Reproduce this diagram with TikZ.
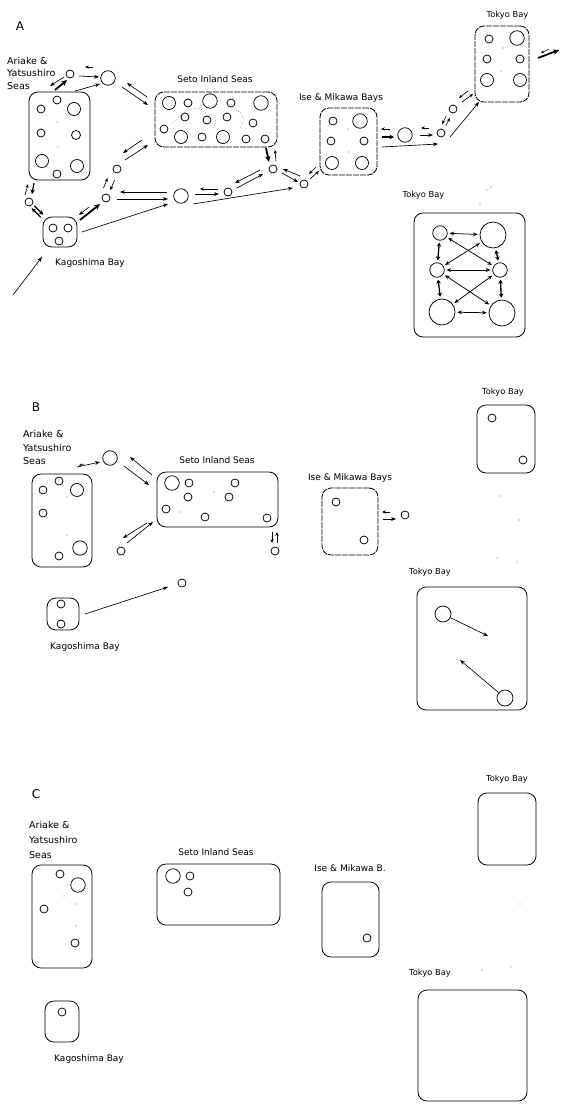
\documentclass[tikz,border=0pt]{standalone}
\usepackage{fontspec}
\setmainfont{DejaVu Sans}
\usetikzlibrary{arrows.meta,calc}
\begin{document}
\begin{tikzpicture}[x=1pt,y=-1pt,
  box/.style={draw=black, line width=0.8pt, rounded corners=9pt, inner sep=0pt},
  dbox/.style={box, dash pattern=on 6pt off 1pt},
  cir/.style={draw=black, circle, line width=0.75pt, inner sep=0pt},
  sc/.style={cir, minimum size=8pt},
  mc/.style={cir, minimum size=13pt},
  lc/.style={cir, minimum size=14.5pt},
  hc/.style={cir, minimum size=26pt},
  ar/.style={-{Stealth[length=5pt,width=3.8pt]}, line width=0.65pt},
  sar/.style={-{Stealth[length=3.8pt,width=3.2pt]}, line width=0.65pt},
  tar/.style={-{Stealth[length=6pt,width=5.5pt]}, line width=1.8pt},
  mar/.style={-{Stealth[length=4.5pt,width=4.5pt]}, line width=1.2pt},
  dar/.style={{Stealth[length=4.5pt,width=3.8pt]}-{Stealth[length=4.5pt,width=3.8pt]}, line width=0.75pt, shorten >=2pt, shorten <=2pt},
  tdar/.style={{Stealth[length=4pt,width=4.5pt]}-{Stealth[length=4pt,width=4.5pt]}, line width=1.3pt, shorten >=2pt, shorten <=2pt},
  lab/.style={font=\fontsize{9}{10}\selectfont, inner sep=0pt},
  tlab/.style={font=\fontsize{8.3}{10}\selectfont, inner sep=0pt},
  big/.style={font=\fontsize{12}{14}\selectfont, inner sep=0pt},
  side/.style={lab, align=left, anchor=north west},
  dot/.style={fill=black!55, circle, inner sep=0pt, minimum size=1.1pt}
]
\useasboundingbox (0,0) rectangle (566,1104);
\fill[white] (0,0) rectangle (566,1104);

%%%%%%%%%%%%%%%% PANEL A %%%%%%%%%%%%%%%%
\node[big] (LA) at (20,26) {A};
\node[side, font=\fontsize{9.5}{12.5}\selectfont] (ArLA) at (7,57) {Ariake \&\\Yatsushiro\\Seas};
\node[box, minimum width=61pt, minimum height=88pt] (ArA) at (59.5,136) {};
\node[sc] (a1) at (57,100) {};
\node[sc] (a2) at (41,109) {};
\node[mc] (a3) at (74,109) {};
\node[sc] (a4) at (41,133) {};
\node[sc, minimum size=9pt] (a5) at (76,135) {};
\node[mc] (a6) at (42,161) {};
\node[mc] (a7) at (77,166) {};
\node[sc] (a8) at (57,174) {};
\node[dot] (ad1) at (57,122) {};
\node[dot] (ad2) at (58,147) {};

\node[lab] (SeLA) at (215,79.5) {Seto Inland Seas};
\node[dbox, minimum width=122pt, minimum height=55pt] (SeA) at (216,119.5) {};
\node[mc] (s1) at (169,103) {};
\node[sc] (s2) at (188,103) {};
\node[lc] (s3) at (210,101) {};
\node[sc] (s4) at (231,103) {};
\node[lc] (s5) at (261,103) {};
\node[sc] (s6) at (185,117) {};
\node[sc] (s7) at (207,120) {};
\node[sc] (s8) at (227,117) {};
\node[sc] (s9) at (253,123) {};
\node[sc] (s10) at (164,129) {};
\node[mc] (s11) at (181,137) {};
\node[sc] (s12) at (202,137) {};
\node[mc] (s13) at (223,137) {};
\node[sc] (s14) at (246,139) {};
\node[sc] (s15) at (265,139) {};
\draw[black!60, dotted, line width=0.6pt] (s6) ++(-12,6) .. controls (190,104) and (202,105) .. (s7.north) .. controls (215,110) and (218,122) .. (213,129);
\draw[black!60, dotted, line width=0.6pt] (236,110) .. controls (243,112) and (246,120) .. (240,128);

\node[lab] (IseLA) at (341,98.5) {Ise \& Mikawa Bays};
\node[dbox, minimum width=57pt, minimum height=67pt] (IseA) at (348.5,141.5) {};
\node[sc] (i1) at (333,121) {};
\node[lc] (i2) at (360,121) {};
\node[sc] (i3) at (331,141) {};
\node[sc] (i4) at (364,141) {};
\node[mc] (i5) at (332,163) {};
\node[mc] (i6) at (362,163) {};
\node[dot] (id1) at (348,129) {};
\node[dot] (id2) at (349,152) {};

\node[tlab] (TkLA) at (507.5,15.5) {Tokyo Bay};
\node[dbox, minimum width=54pt, minimum height=76pt] (TkA) at (502,64) {};
\node[sc] (t1) at (489,39) {};
\node[lc] (t2) at (517,38) {};
\node[sc] (t3) at (487,59) {};
\node[sc] (t4) at (520,59) {};
\node[mc] (t5) at (487,80) {};
\node[mc] (t6) at (520,80) {};
\node[dot] (td1) at (503,48) {};
\node[dot] (td2) at (501,71) {};

\node[lab] (KgLA) at (90,263.5) {Kagoshima Bay};
\node[box, minimum width=34pt, minimum height=30pt] (KgA) at (60,232) {};
\node[sc] (k1) at (53,228) {};
\node[sc] (k2) at (68,228) {};
\node[sc] (k3) at (59,241) {};

\node[sc] (c0) at (29,202) {};
\node[sc] (c1) at (70,74) {};
\node[lc] (c2) at (108,78) {};
\node[sc] (c3) at (117,169) {};
\node[sc] (c4) at (106,198) {};
\node[lc] (c5) at (181,196) {};
\node[sc] (c6) at (228,192) {};
\node[sc] (c7) at (273,169) {};
\node[sc] (c8) at (304,184) {};
\node[lc] (c9) at (405,135) {};
\node[sc] (c10) at (441,133) {};
\node[sc] (c11) at (453,109) {};
\coordinate (srcA) at (13,295);
\coordinate (outA) at (559,50);

% connectors panel A
\draw[tar] ($(ArA)+(-4.5,-46)$) -- ($(c1)+(-3,6)$);
\draw[ar] ($(c1)+(-6,3)$) -- ($(ArA)+(-9.5,-50)$);
\draw[sar] ($(c2)+(-15,-11)$) -- ($(c1)+(15,-7)$);
\draw[ar] ($(c1)+(9,2)$) -- ($(c2)+(-9,-1)$);
\draw[ar] ($(ArA)+(15.5,-45)$) -- ($(c2)+(-8,6)$);
\draw[ar] ($(SeA)+(-69,-22.5)$) -- ($(c2)+(19,5)$);
\draw[ar] ($(c2)+(14,9)$) -- ($(SeA)+(-68,-14.5)$);
\draw[ar] ($(SeA)+(-74,20.5)$) -- ($(c3)+(6,-16)$);
\draw[ar] ($(c3)+(8,-9)$) -- ($(SeA)+(-68,25.5)$);
\draw[sar] ($(c3)+(-2.5,11)$) -- ($(c4)+(4.5,-8)$);
\draw[sar] ($(c4)+(-2.5,-10)$) -- ($(c3)+(-9.5,9)$);
\draw[tar] ($(KgA)+(20,-12)$) -- ($(c4)+(-6,6)$);
\draw[ar] ($(c4)+(-17,9)$) -- ($(KgA)+(19,-17)$);
\draw[ar] ($(c5)+(-14,-4)$) -- ($(c4)+(14,-6)$);
\draw[ar] ($(c4)+(11,1)$) -- ($(c5)+(-13,3)$);
\draw[ar] ($(KgA)+(22,0)$) -- ($(c5)+(-13,8)$);
\draw[ar] (srcA) -- ($(KgA)+(-18,25)$);
\draw[sar] ($(c0)+(-4,-7)$) -- ($(ArA)+(-31.5,48)$);
\draw[mar] ($(ArA)+(-25.5,47)$) -- ($(c0)+(3,-8)$);
\draw[mar] ($(c0)+(5.3,3.8)$) -- ($(KgA)+(-16.7,-17.2)$);
\draw[mar] ($(KgA)+(-19.3,-14.8)$) -- ($(c0)+(2.7,6.2)$);
\draw[sar] ($(c6)+(-10,-3)$) -- ($(c5)+(19,-7)$);
\draw[ar] ($(c5)+(14,-2)$) -- ($(c6)+(-9,2)$);
\draw[ar] ($(c5)+(12,8)$) -- ($(c8)+(-11,4)$);
\draw[ar] ($(c7)+(-13,1)$) -- ($(c6)+(7,-9)$);
\draw[ar] ($(c6)+(9,-4)$) -- ($(c7)+(-10,5)$);
\draw[tar] ($(SeA)+(50,28.5)$) -- ($(c7)+(-4,-7)$);
\draw[sar] ($(c7)+(3,-8)$) -- ($(SeA)+(59,30.5)$);
\draw[ar] ($(c8)+(-4,-8)$) -- ($(c7)+(10,0)$);
\draw[ar] ($(c7)+(9,4)$) -- ($(c8)+(-6,-2)$);
\draw[sar] ($(IseA)+(-32.5,25.5)$) -- ($(c8)+(5,-10)$);
\draw[sar] ($(c8)+(6,-5)$) -- ($(IseA)+(-29.5,29.5)$);
\draw[sar] ($(c9)+(-15,-6)$) -- ($(IseA)+(32.5,-12.5)$);
\draw[mar] ($(IseA)+(33.5,-4.5)$) -- ($(c9)+(-11,2)$);
\draw[ar] ($(IseA)+(33.5,5.5)$) -- ($(c10)+(-3,11)$);
\draw[sar] ($(c10)+(-12,-5)$) -- ($(c9)+(16,-7)$);
\draw[ar] ($(c9)+(15,0)$) -- ($(c10)+(-8,2)$);
\draw[sar] ($(c11)+(-6.8,7.1)$) -- ($(c10)+(1.2,-8.9)$);
\draw[sar] ($(c10)+(4.8,-7.1)$) -- ($(c11)+(-3.2,8.9)$);
\draw[ar] ($(c10)+(9,4)$) -- ($(TkA)+(-23,38)$);
\draw[sar] ($(TkA)+(-34,27)$) -- ($(c11)+(6,-11)$);
\draw[sar] ($(c11)+(9,-7)$) -- ($(TkA)+(-29,30)$);
\draw[tar] ($(TkA)+(36,-6)$) -- (outA);
\draw[-{Stealth[length=3pt,width=2.5pt]}, line width=0.5pt] ($(outA)+(-10,-1)$) -- ($(TkA)+(39,-11)$);

% big Tokyo Bay A
\node[tlab] (TbLA) at (423.5,195.5) {Tokyo Bay};
\node[box, minimum width=111pt, minimum height=124pt] (TbA) at (469.5,275) {};
\node[lc] (T1) at (440,233) {};
\node[hc] (T2) at (493,235) {};
\node[lc] (T3) at (437,270) {};
\node[lc] (T4) at (500,270) {};
\node[hc] (T5) at (442,312) {};
\node[hc] (T6) at (502,313) {};
\draw[dar] (T1) -- (T2);
\draw[dar] (T3) -- (T4);
\draw[dar] (T5) -- (T6);
\draw[dar] (T1) -- (T4);
\draw[dar] (T2) -- (T3);
\draw[dar] (T3) -- (T6);
\draw[dar] (T4) -- (T5);
\draw[tdar] (T1) -- (T3);
\draw[tdar] (T2) -- (T4);
\draw[tdar] (T3) -- (T5);
\draw[tdar] (T4) -- (T6);
\node[dot] (tn1) at (487,190) {};
\node[dot] (tn2) at (491,187) {};
\node[dot] (tn3) at (480,204) {};

%%%%%%%%%%%%%%%% PANEL B %%%%%%%%%%%%%%%%
\node[big] (LB) at (36,407) {B};
\node[side, font=\fontsize{9.5}{13.5}\selectfont] (ArLB) at (23,430.5) {Ariake \&\\Yatsushiro\\Seas};
\node[box, minimum width=60pt, minimum height=93pt] (ArB) at (62,520.5) {};
\node[sc] (ab1) at (59,481) {};
\node[sc] (ab2) at (43,490) {};
\node[mc] (ab3) at (77,490) {};
\node[sc] (ab4) at (43,513) {};
\node[lc] (ab5) at (80,548) {};
\node[sc] (ab6) at (59,556) {};
\node[dot] (abd1) at (67,497) {};
\node[dot] (abd2) at (67,535) {};

\node[lab] (SeLB) at (217,460) {Seto Inland Seas};
\node[box, minimum width=121pt, minimum height=55pt] (SeB) at (217.5,499.5) {};
\node[lc] (sb1) at (172,483) {};
\node[sc] (sb2) at (189,483) {};
\node[sc] (sb3) at (235,483) {};
\node[sc] (sb4) at (188,497) {};
\node[sc] (sb5) at (229,497) {};
\node[sc] (sb6) at (166,509) {};
\node[sc] (sb7) at (205,517) {};
\node[sc] (sb8) at (267,518) {};
\node[dot] (sbd1) at (214,492) {};
\node[dot] (sbd2) at (180,512) {};

\node[lab] (IseLB) at (350,478) {Ise \& Mikawa Bays};
\node[dbox, minimum width=56pt, minimum height=67pt] (IseB) at (350,521.5) {};
\node[sc] (ib1) at (336,502) {};
\node[sc] (ib2) at (364,540) {};

\node[tlab] (TkLB) at (503,392) {Tokyo Bay};
\node[box, minimum width=58pt, minimum height=68pt] (TkB) at (506,439) {};
\node[sc] (tb1) at (492,418) {};
\node[sc] (tb2) at (523,460) {};

\node[lab] (KgLB) at (85,647) {Kagoshima Bay};
\node[box, minimum width=32pt, minimum height=32pt] (KgB) at (63,614) {};
\node[sc] (kb1) at (61,604) {};
\node[sc] (kb2) at (61,624) {};

\node[lc] (b1) at (110,458) {};
\node[sc] (b2) at (121,551) {};
\node[sc] (b3) at (275,551) {};
\node[sc] (b4) at (182,583) {};
\node[sc] (b5) at (405,515) {};

\draw[ar] ($(ArB)+(15,-53.5)$) -- ($(b1)+(-10,4)$);
\draw[-{Stealth[length=3pt,width=2.5pt]}, line width=0.5pt] ($(b1)+(-26,6)$) -- ($(ArB)+(17,-55)$);
\draw[ar] ($(SeB)+(-65.5,-24.5)$) -- ($(b1)+(20,-1)$);
\draw[ar] ($(b1)+(14,8)$) -- ($(SeB)+(-68.5,-14.5)$);
\draw[ar] ($(SeB)+(-70.5,23.5)$) -- ($(b2)+(2,-13)$);
\draw[ar] ($(b2)+(6,-8)$) -- ($(SeB)+(-64.5,22.5)$);
\draw[sar] ($(SeB)+(54.5,32.5)$) -- ($(b3)+(-3,-8)$);
\draw[sar] ($(b3)+(2,-8)$) -- ($(SeB)+(59.5,32.5)$);
\draw[ar] ($(KgB)+(22,0)$) -- ($(b4)+(-14,4)$);
\draw[sar] ($(b5)+(-15,-3)$) -- ($(IseB)+(32,-9.5)$);
\draw[ar] ($(IseB)+(33,-2.5)$) -- ($(b5)+(-9,4)$);

\node[tlab] (TbLB) at (430,572) {Tokyo Bay};
\node[box, minimum width=110pt, minimum height=123pt] (TbB) at (472,648.5) {};
\node[cir, minimum size=16pt] (bT1) at (443,614) {};
\node[cir, minimum size=16pt] (bT2) at (505,698) {};
\coordinate (fb1) at (488,636);
\coordinate (fb2) at (460,660);
\draw[ar] (bT1) -- (fb1);
\draw[ar] (bT2) -- (fb2);
\node[dot] (bn1) at (500,496) {};
\node[dot] (bn2) at (519,520) {};
\node[dot] (bn3) at (497,558) {};
\node[dot] (bn4) at (517,562) {};

%%%%%%%%%%%%%%%% PANEL C %%%%%%%%%%%%%%%%
\node[big] (LC) at (36,794) {C};
\node[side, font=\fontsize{9.5}{15}\selectfont] (ArLC) at (29,821.5) {Ariake \&\\Yatsushiro\\Seas};
\node[box, minimum width=60pt, minimum height=103pt] (ArC) at (62,916.5) {};
\node[sc] (ac1) at (60,874) {};
\node[lc] (ac2) at (78,885) {};
\node[sc] (ac3) at (44,909) {};
\node[sc] (ac4) at (75,943) {};
\node[dot] (acd1) at (64,896) {};
\node[dot] (acd2) at (76,904) {};
\node[dot] (acd3) at (76,926) {};

\node[lab] (SeLC) at (216,852) {Seto Inland Seas};
\node[box, minimum width=123pt, minimum height=61pt] (SeC) at (218.5,894.5) {};
\node[lc] (sc1) at (173,876) {};
\node[sc] (sc2) at (190,876) {};
\node[sc] (sc3) at (188,892) {};

\node[lab] (IseLC) at (350,868) {Ise \& Mikawa B.};
\node[box, minimum width=57pt, minimum height=75pt] (IseC) at (350.5,919.5) {};
\node[sc] (ic1) at (367,938) {};

\node[tlab] (TkLC) at (507,779) {Tokyo Bay};
\node[box, minimum width=58pt, minimum height=72pt] (TkC) at (507,829) {};

\node[lab] (KgLC) at (89,1059) {Kagoshima Bay};
\node[box, minimum width=34pt, minimum height=41pt] (KgC) at (62,1021.5) {};
\node[sc] (kc1) at (62,1012) {};

\node[tlab] (TbLC) at (430,973) {Tokyo Bay};
\node[box, minimum width=109pt, minimum height=111pt] (TbC) at (472.5,1045.5) {};
\node[dot] (cn1) at (520,904) {};
\node[dot] (cn2) at (482,970) {};
\node[dot] (cn3) at (511,967) {};
\end{tikzpicture}
\end{document}
